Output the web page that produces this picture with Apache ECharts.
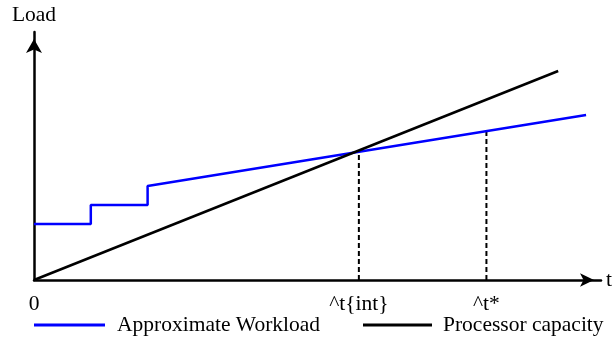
<!DOCTYPE html>
<html>
<head>
<meta charset="utf-8">
<script src="https://cdn.jsdelivr.net/npm/echarts@6/dist/echarts.min.js"></script>
<style>
html,body{margin:0;padding:0;background:#fff;}
#main{width:615px;height:343px;}
</style>
</head>
<body>
<div id="main"></div>
<script>
// Data (x: time units, y: load units)
const workloadX = [0, 57, 57, 114, 114, 554];
const workloadY = [56, 56, 75, 75, 94, 165];
const capacityX = [0, 526];
const capacityY = [0, 209];
const tIntX = 326, tIntY = 129;
const tStarX = 454, tStarY = 149;
const tickValues = [0, tIntX, tStarX];
const tickLabels = ['0', '^t{int}', '^t*'];
const seriesNames = ['Approximate Workload', 'Processor capacity'];

const FONT = "'Liberation Serif', 'Times New Roman', serif";
const FS = 21.5;
const zip = (xs, ys) => xs.map((x, i) => [x, ys[i]]);

const chart = echarts.init(document.getElementById('main'));
chart.setOption({
  animation: false,
  backgroundColor: '#fff',
  textStyle: { fontFamily: FONT },
  grid: { left: 34, top: 32, right: 12, bottom: 63, containLabel: false },
  legend: [
    { data: [seriesNames[0]], left: 29, top: 309, icon: 'rect', itemWidth: 71, itemHeight: 3,
      textStyle: { fontFamily: FONT, fontSize: FS, color: '#000', padding: [0, 0, 0, 7] } },
    { data: [seriesNames[1]], left: 358, top: 309, icon: 'rect', itemWidth: 69, itemHeight: 3,
      textStyle: { fontFamily: FONT, fontSize: FS, color: '#000', padding: [0, 0, 0, 6] } }
  ],
  xAxis: {
    type: 'value', min: 0, max: 569,
    name: 't', nameLocation: 'end', nameGap: 5,
    nameTextStyle: { fontFamily: FONT, fontSize: FS, color: '#000', verticalAlign: 'middle' },
    axisLine: { show: true, symbol: ['none', 'arrow'], symbolSize: [10, 14], symbolOffset: [0, -7],
      lineStyle: { color: '#000', width: 2.5 } },
    axisTick: { show: false },
    splitLine: { show: false },
    axisLabel: { show: true, customValues: tickValues, margin: 13,
      formatter: (v) => tickLabels[tickValues.indexOf(v)] ?? '',
      fontFamily: FONT, fontSize: FS, color: '#000' }
  },
  yAxis: {
    type: 'value', min: 0, max: 248,
    name: 'Load', nameLocation: 'end', nameGap: 6,
    nameTextStyle: { fontFamily: FONT, fontSize: FS, color: '#000', align: 'center' },
    axisLine: { show: true, symbol: ['none', 'arrow'], symbolSize: [12, 14], symbolOffset: [0, -7],
      lineStyle: { color: '#000', width: 2.5 } },
    axisTick: { show: false },
    splitLine: { show: false },
    axisLabel: { show: false }
  },
  series: [
    { name: seriesNames[1], type: 'line', data: zip(capacityX, capacityY), symbol: 'none',
      lineStyle: { color: '#000', width: 2.5 }, itemStyle: { color: '#000' }, z: 3 },
    { name: seriesNames[0], type: 'line', data: zip(workloadX, workloadY), symbol: 'none',
      lineStyle: { color: '#0000ff', width: 2.5 }, itemStyle: { color: '#0000ff' }, z: 2 },
    { name: 'tint', type: 'line', data: [[tIntX, 0], [tIntX, tIntY]], symbol: 'none',
      lineStyle: { color: '#000', width: 2, type: [5, 3] }, z: 1 },
    { name: 'tstar', type: 'line', data: [[tStarX, 0], [tStarX, tStarY]], symbol: 'none',
      lineStyle: { color: '#000', width: 2, type: [5, 3] }, z: 1 }
  ]
});
</script>
</body>
</html>
